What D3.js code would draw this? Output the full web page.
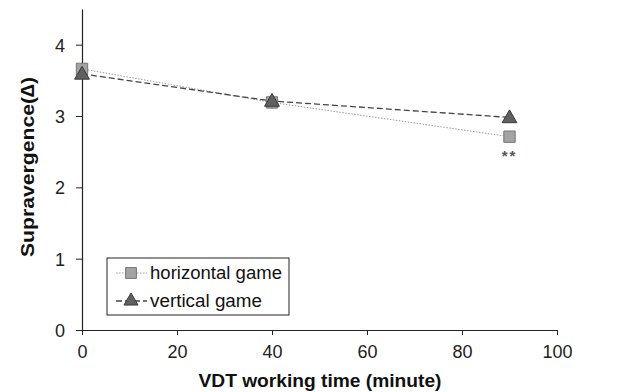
<!DOCTYPE html>
<html>
<head>
<meta charset="utf-8">
<script src="https://cdn.jsdelivr.net/npm/d3@7"></script>
<style>
  body { margin: 0; background: #fff; }
  svg { font-family: "Liberation Sans", Arial, sans-serif; }
</style>
</head>
<body>
<div id="chart"></div>
<script>
// data
const times = [0, 40, 90];
const horizontalGame = [3.66, 3.19, 2.71];
const verticalGame = [3.59, 3.21, 2.98];
const xTicks = [0, 20, 40, 60, 80, 100];
const yTicks = [0, 1, 2, 3, 4];

const W = 635, H = 392;
const margin = { top: 9, right: 78, bottom: 62, left: 82 };
const width = W - margin.left - margin.right,
      height = H - margin.top - margin.bottom;

const svg = d3.select("#chart").append("svg")
    .attr("width", W).attr("height", H);
const g = svg.append("g").attr("transform", `translate(${margin.left},${margin.top})`);

const x = d3.scaleLinear().domain([0, 100]).range([0, 475]);
const y = d3.scaleLinear().domain([0, 4.5]).range([height, 0]);

// axes
const xAxis = g.append("g").attr("transform", `translate(0,${height})`)
    .call(d3.axisBottom(x).tickValues(xTicks).tickFormat(d3.format("d")).tickSize(5).tickSizeOuter(0));
const yAxis = g.append("g")
    .call(d3.axisLeft(y).tickValues(yTicks).tickFormat(d3.format("d")).tickSize(6).tickSizeOuter(0));
[xAxis, yAxis].forEach(a => {
  a.select(".domain").attr("stroke", "#222").attr("stroke-width", 1.2);
  a.selectAll(".tick line").attr("stroke", "#222");
  a.selectAll("text").attr("font-size", 18).attr("fill", "#222")
    .attr("font-family", "Liberation Sans, Arial, sans-serif");
});
xAxis.selectAll("text").attr("y", 11).attr("dy", "0.95em");
yAxis.selectAll("text").attr("x", -17).attr("dy", "0.36em");

// axis titles
svg.append("text")
    .attr("x", margin.left + x(50) - 121).attr("y", 387)
    .attr("font-size", 19).attr("font-weight", "bold")
    .attr("textLength", 243).attr("lengthAdjust", "spacingAndGlyphs")
    .attr("fill", "#111").text("VDT working time (minute)");
svg.append("text")
    .attr("transform", `translate(34,257) rotate(-90)`)
    .attr("font-size", 19).attr("font-weight", "bold")
    .attr("textLength", 180).attr("lengthAdjust", "spacingAndGlyphs")
    .attr("fill", "#111").text("Supravergence(∆)");

const series = [
  { name: "horizontal game", values: horizontalGame, line: "#9a9a9a", dash: "1.5,1.5", width: 1,
    sym: d3.symbolSquare, size: 130, fill: "#a3a3a3", stroke: "#777", textLen: 132 },
  { name: "vertical game", values: verticalGame, line: "#444", dash: "6,3", width: 1.3,
    sym: d3.symbolTriangle, size: 95, fill: "#606060", stroke: "#3a3a3a", textLen: 112 }
];

const line = d3.line().x(d => x(d[0])).y(d => y(d[1]));

series.forEach(s => {
  const pts = times.map((t, i) => [t, s.values[i]]);
  g.append("path").datum(pts)
    .attr("d", line).attr("fill", "none")
    .attr("stroke", s.line).attr("stroke-width", s.width).attr("stroke-dasharray", s.dash);
});
series.forEach(s => {
  g.selectAll(null).data(times.map((t, i) => [t, s.values[i]])).enter()
    .append("path")
    .attr("d", d3.symbol().type(s.sym).size(s.size))
    .attr("transform", d => `translate(${x(d[0])},${y(d[1]) + (s.sym === d3.symbolTriangle ? 1 : 0)})`)
    .attr("fill", s.fill).attr("stroke", s.stroke).attr("stroke-width", 1);
});

// significance mark
g.append("text")
    .attr("x", x(90)).attr("y", y(horizontalGame[2]) + 24)
    .attr("text-anchor", "middle").attr("font-size", 15).attr("font-weight", "bold")
    .attr("letter-spacing", 2)
    .attr("fill", "#555").text("**");

// legend
const legend = svg.append("g").attr("transform", "translate(107,258)");
legend.append("rect").attr("width", 182).attr("height", 57)
    .attr("fill", "#fff").attr("stroke", "#222").attr("stroke-width", 1);
series.forEach((s, i) => {
  const ly = 15 + i * 28;
  legend.append("line").attr("x1", 9).attr("x2", 40).attr("y1", ly).attr("y2", ly)
    .attr("stroke", s.line).attr("stroke-width", s.width).attr("stroke-dasharray", s.dash);
  legend.append("path")
    .attr("d", d3.symbol().type(s.sym).size(s.size * 0.9))
    .attr("transform", `translate(24,${ly})`)
    .attr("fill", s.fill).attr("stroke", s.stroke);
  legend.append("text").attr("x", 43).attr("y", ly).attr("dy", "0.36em")
    .attr("font-size", 17.5).attr("fill", "#111")
    .attr("textLength", s.textLen).attr("lengthAdjust", "spacingAndGlyphs")
    .text(s.name);
});
</script>
</body>
</html>
